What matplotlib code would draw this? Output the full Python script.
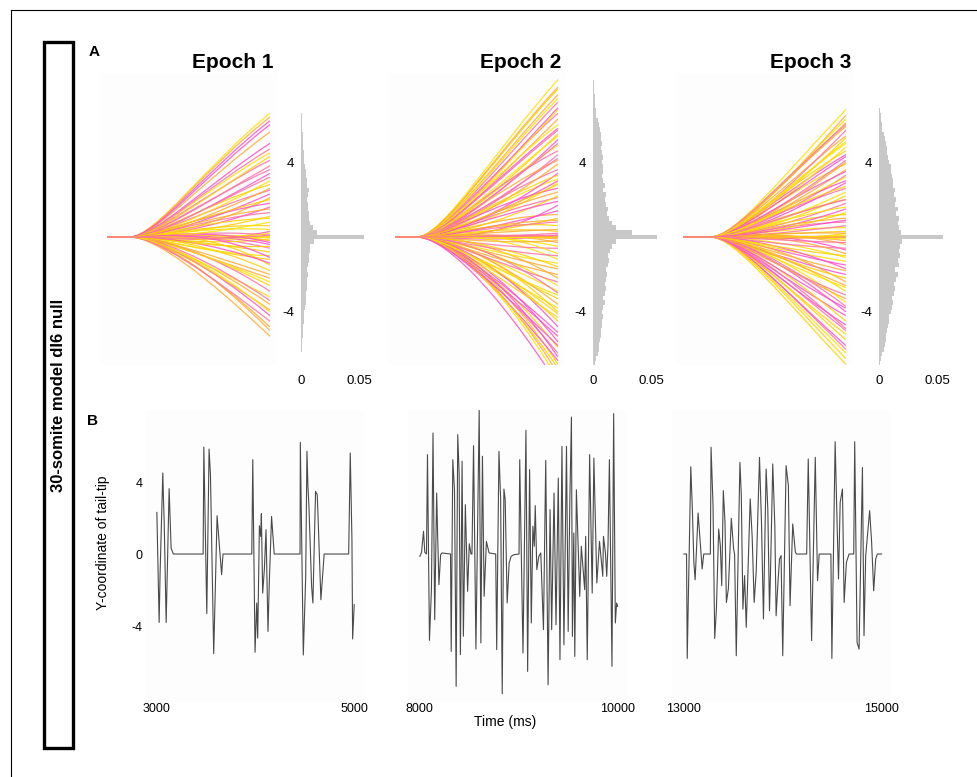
import matplotlib.pyplot as plt
from matplotlib.path import Path
from matplotlib.patches import PathPatch, Rectangle
from matplotlib.lines import Line2D

plt.rcParams['font.family'] = ['Liberation Sans', 'DejaVu Sans']

# --- panel A: tail-tip trajectories per epoch (end value, value near the middle of the spread) ---
ep1_end = [6.6, -0.2, 3.4, -2.6, 0.1, 4.5, -4.8, 1.6, -1.2, 2.5, 0.0, -3.6, 6.2, 1.0, -0.6, 3.0,
           -5.3, 0.3, -1.8, 4.1, 0.0, -2.2, 5.0, -0.1, 1.3, -3.2, 2.1, -4.2, 0.6, 3.8, -1.0, 6.4,
           -0.4, 2.8, -2.9, 0.2, -5.0, 1.8, -1.5, 4.7, 0.0, -3.9, 2.3, -0.8, 3.6, -2.4, 5.6, -0.3,
           1.1, -4.5, 0.4, 2.6, -1.4, 4.3, -3.4, 0.8, -2.0, 6.0, -0.5, 3.2, -4.0, 1.5, -1.1, 2.0, 0.1]
ep1_mid = [3.9, 0.3, 1.5, -0.9, 0.4, 2.6, -1.7, 0.4, -0.8, 1.5, -0.3, -1.3, 3.6, 0.9, 0.2, 1.2,
           -2.1, -0.4, -0.3, 2.4, 0.2, -1.1, 2.8, -0.5, 1.0, -1.5, 0.4, -1.4, 0.7, 1.9, -0.9, 3.8,
           0.3, 1.8, -0.7, -0.2, -1.6, 1.3, 0.4, 2.7, -0.1, -1.6, 0.8, -0.3, 2.1, -1.0, 3.2, 0.5,
           0.3, -1.9, 0.6, 1.0, -0.2, 2.2, -1.1, 0.1, -0.9, 3.4, -0.6, 1.6, -1.3, 1.1, 0.5, 1.2, -0.2]

ep2_end = [8.4, -0.3, 5.2, -6.8, 2.1, -2.9, 7.6, 0.1, -4.5, 3.6, -1.2, 6.3, -7.9, 0.0, 4.4, -3.8,
           1.2, -5.6, 7.9, -0.6, 2.9, -2.2, 5.8, 0.3, -6.2, 3.1, -1.7, 6.9, -4.0, 0.0, 4.9, -7.3,
           1.7, -3.3, 7.2, -0.9, 2.4, -5.1, 5.5, 0.2, -2.6, 3.9, -6.6, 0.6, 6.6, -1.4, 4.1, -4.8,
           1.0, -3.0, 7.4, -0.1, 2.6, -5.9, 5.0, 0.0, -2.0, 3.4, -7.0, 0.8, 6.0, -3.6, 1.4, -4.3,
           4.6, -0.5, 8.0, -6.4, 2.2, -1.0, 5.4, 0.4, -5.3, 3.3, -2.4, 6.8, -0.2, 1.9, -4.1, 4.2,
           -7.6, 0.0, 3.0, -1.6, 5.7, -3.1, 0.9, -5.8, 2.8, 0.1]
ep2_mid = [4.6, 0.4, 2.0, -1.6, 1.4, -1.2, 4.0, -0.3, -1.3, 2.2, 0.3, 3.0, -2.6, 0.0, 1.6, -1.9,
           1.1, -1.4, 4.3, -0.6, 0.8, -0.2, 3.1, 0.6, -2.2, 1.9, -1.0, 3.3, -0.8, 0.2, 2.6, -1.8,
           -0.2, -1.6, 3.7, 0.5, 1.5, -2.0, 2.3, 0.0, -0.7, 1.4, -2.4, 0.9, 3.6, -0.9, 2.5, -1.1,
           0.2, -0.5, 3.9, 0.1, 1.9, -1.7, 2.2, -0.1, -1.3, 1.0, -2.1, 0.6, 3.4, -1.0, 0.5, -2.0,
           2.9, 0.2, 4.4, -1.5, 0.6, -0.8, 2.7, 0.3, -2.3, 2.0, -1.4, 3.2, -0.4, 1.2, -1.5, 1.9,
           -1.9, 0.1, 1.1, -0.3, 3.0, -1.8, 0.8, -2.5, 1.3, 0.0]

ep3_end = [6.8, -0.2, 4.4, -5.5, 1.8, -2.7, 6.1, 0.0, -6.8, 3.3, -1.1, 5.4, -4.2, 0.2, 2.6, -3.5,
           6.5, -0.7, 1.2, -6.0, 4.8, 0.0, -2.0, 3.9, -4.9, 0.5, 5.9, -1.5, 2.2, -3.1, 6.3, -0.4,
           1.5, -5.2, 4.1, 0.1, -2.4, 3.0, -6.5, 0.8, 5.1, -1.8, 2.9, -4.5, 5.7, -0.1, 1.0, -3.8,
           4.6, 0.0, -2.9, 3.6, -5.8, 0.3, 6.0, -1.3, 2.0, -4.0, 5.3, -0.6, 1.6, -3.3, 4.3, 0.0,
           -5.0, 2.4, -0.9, 3.5, -2.2, 0.6, -6.2, 4.0, -1.7, 2.7, -3.7, 5.0, 0.2, -4.7, 1.3, -0.3,
           3.2, -2.6, 0.9, -1.0, 2.0]
ep3_mid = [3.4, 0.2, 2.5, -2.6, 0.6, -1.5, 3.0, 0.0, -3.4, 1.2, -0.2, 2.9, -2.4, -0.3, 1.6, -1.1,
           2.9, 0.3, 1.0, -2.8, 2.0, 0.1, -1.3, 2.4, -2.0, 0.5, 3.2, -0.9, 0.7, -1.9, 3.1, 0.4,
           0.4, -2.7, 1.7, -0.1, -0.6, 1.8, -3.1, 0.7, 2.6, -1.1, 1.1, -1.8, 2.4, 0.0, 0.8, -2.1,
           2.7, -0.1, -0.9, 1.5, -2.9, 0.2, 3.3, -0.8, 1.3, -1.4, 2.2, -0.5, 1.1, -1.8, 2.2, 0.0,
           -2.4, 0.9, 0.2, 2.0, -1.4, 0.2, -3.0, 1.6, -0.4, 1.7, -1.3, 2.7, 0.3, -2.6, 0.3, -0.2,
           1.6, -1.2, 0.4, -0.7, 1.2]

# histograms of tail-tip position, 0.25-wide bins
ep1_hist_lo = -6.0
ep1_hist = [0.0005, 0.001, 0.001, 0.0015, 0.002, 0.002, 0.0025, 0.003, 0.003, 0.0035, 0.004, 0.004,
            0.0045, 0.005, 0.005, 0.0055, 0.006, 0.0055, 0.006, 0.0065, 0.007, 0.0075, 0.008, 0.011,
            0.054,
            0.014, 0.01, 0.008, 0.007, 0.0065, 0.006, 0.006, 0.0055, 0.006, 0.0065, 0.0055, 0.005,
            0.0045, 0.004, 0.0035, 0.003, 0.003, 0.0025, 0.002, 0.002, 0.0015, 0.0015, 0.001, 0.001,
            0.0008, 0.0005, 0.0003]
ep2_hist_lo = -6.75
ep2_hist = [0.002, 0.003, 0.004, 0.005, 0.005, 0.006, 0.007, 0.007, 0.008, 0.008, 0.009, 0.008,
            0.009, 0.01, 0.009, 0.01, 0.011, 0.01, 0.011, 0.012, 0.011, 0.013, 0.014, 0.013, 0.015,
            0.016, 0.02,
            0.055,
            0.034, 0.02, 0.016, 0.014, 0.012, 0.013, 0.011, 0.01, 0.011, 0.009, 0.01, 0.009, 0.008,
            0.009, 0.009, 0.008, 0.009, 0.008, 0.007, 0.008, 0.007, 0.007, 0.006, 0.005, 0.004,
            0.003, 0.003, 0.002, 0.002, 0.0015, 0.001, 0.001, 0.0007, 0.0004]
ep3_hist_lo = -6.75
ep3_hist = [0.001, 0.002, 0.003, 0.004, 0.005, 0.006, 0.006, 0.007, 0.008, 0.009, 0.009, 0.01,
            0.011, 0.012, 0.011, 0.013, 0.014, 0.013, 0.015, 0.016, 0.014, 0.017, 0.016, 0.018,
            0.017, 0.018, 0.02,
            0.055,
            0.019, 0.017, 0.016, 0.017, 0.015, 0.016, 0.014, 0.015, 0.013, 0.014, 0.012, 0.012,
            0.011, 0.01, 0.01, 0.009, 0.008, 0.007, 0.007, 0.006, 0.005, 0.004, 0.003, 0.003,
            0.002, 0.0015, 0.001]

# --- panel B: Y-coordinate of tail tip over time (ms) ---
t1 = [3000, 3023, 3033, 3060, 3067, 3074, 3094, 3124, 3144, 3167, 3468, 3475, 3505, 3528, 3542,
      3575, 3609, 3655, 3669, 3960, 3970, 3993, 4010, 4020, 4037, 4050, 4057, 4070, 4087, 4104,
      4124, 4137, 4160, 4187, 4448, 4451, 4481, 4505, 4518, 4528, 4538, 4565, 4578, 4605, 4622,
      4632, 4659, 4692, 4940, 4956, 4973, 4980, 4996]
y1 = [2.31, -3.80, -0.96, 4.50, 3.02, 1.81, -3.80, 3.63, 0.33, 0, 0, 5.94, -3.31, 5.83, 4.41,
      -5.54, 2.13, -1.15, 0, 0, 5.24, -5.46, -2.72, -4.67, 1.57, 0.98, 2.24, -2.17, -0.87, 1.35,
      -4.30, -1.61, 2.09, 0, 0, 6.20, -5.61, -1.33, 5.70, 3.76, 2.65, -1.80, -2.72, 3.48, 3.30,
      1.81, -2.54, 0, 0, 5.61, 0.80, -4.72, -2.81]

t2 = [8000, 8017, 8037, 8050, 8067, 8077, 8097, 8117, 8133, 8150, 8170, 8180, 8193, 8210, 8223,
      8310, 8317, 8333, 8350, 8367, 8383, 8397, 8410, 8427, 8440, 8460, 8483, 8500, 8517, 8527,
      8543, 8567, 8600, 8617, 8633, 8650, 8673, 8700, 8767, 8777, 8800, 8817, 8833, 8850, 8863,
      8883, 8903, 8923, 8950, 9003, 9010, 9043, 9073, 9090, 9110, 9127, 9143, 9157, 9167, 9183,
      9203, 9223, 9250, 9273, 9297, 9317, 9333, 9357, 9377, 9400, 9417, 9437, 9457, 9483, 9500,
      9517, 9533, 9543, 9557, 9567, 9583, 9617, 9633, 9667, 9677, 9693, 9717, 9743, 9760, 9790,
      9817, 9850, 9857, 9877, 9890, 9903, 9917, 9943, 9960, 9977, 9990, 10000]
y2 = [-0.13, 0.09, 1.26, 0.09, 0, 5.52, -4.80, -1.98, 6.72, -3.65, 3.39, 0.98, -1.70, -0.04, 0.06,
      0, -5.41, 5.24, 3.57, -7.35, 6.63, 4.50, -5.59, 5.15, -4.57, 2.74, -2.07, 0.57, 0, 0,
      6.02, -5.28, 7.98, -4.94, 5.43, -2.35, 0.70, 0.06, 0, -5.31, 5.70, 3.02, -7.76, 3.61, 3.02,
      -2.72, -0.50, -0.13, -0.04, 0, 5.24, -5.50, 6.87, -6.52, 4.69, -3.83, 1.54, 0.43, 2.69, -0.87,
      -0.13, 0.06, -4.20, 5.20, -7.26, 2.46, -4.20, 3.39, -3.93, 4.22, -5.87, 5.98, -5.04, 5.98, -4.30,
      3.02, 7.61, -4.57, 1.17, -5.69, 3.57, -2.35, 0.43, -1.98, 0.98, -5.87, 5.52, -2.17, 5.33, -1.61,
      0.70, -1.24, 0.98, 0.06, -1.24, 0.52, 5.24, -6.24, 7.80, -3.83, -2.72, -2.91]

t3 = [13000, 13027, 13034, 13070, 13087, 13101, 13114, 13144, 13168, 13185, 13201, 13268, 13275,
      13295, 13312, 13329, 13352, 13369, 13383, 13399, 13416, 13430, 13450, 13480, 13503, 13513,
      13530, 13567, 13581, 13597, 13614, 13631, 13671, 13691, 13711, 13732, 13765, 13785, 13805,
      13832, 13849, 13866, 13876, 13899, 13920, 13933, 13950, 13967, 13983, 14000, 14034, 14057,
      14074, 14101, 14128, 14141, 14242, 14258, 14292, 14329, 14352, 14369, 14487, 14497, 14530,
      14547, 14564, 14581, 14604, 14621, 14644, 14671, 14718, 14728, 14752, 14772, 14806, 14822,
      14839, 14879, 14899, 14920, 14940, 14957, 15000]
y3 = [0, 0, -5.80, 4.85, 2.31, -0.46, -1.43, 2.28, 0.46, -0.83, 0, 0, 5.93, 2.69, -4.69, -3.06,
      1.39, 0.46, -1.76, 3.52, 1.76, -2.69, -1.94, 1.98, 0.28, 0, -5.65, 5.09, 3.24, -3.06, -1.20,
      -4.07, 3.06, 0.93, -2.69, -0.93, 5.37, 1.76, -3.61, 4.72, 2.50, -3.15, -1.11, 5.00, 1.57,
      -3.43, -1.76, -0.28, -0.09, -5.65, 4.91, 3.80, -2.87, 1.67, 0.09, 0, 0, 5.28, -4.81, 5.37,
      -1.48, 0, 0, -5.80, 6.24, 2.31, -1.39, 2.87, 3.61, -2.69, -0.46, 0, 0, 6.24, -4.91, -5.28,
      4.81, -4.54, -0.09, 2.41, 0.65, -2.04, -0.28, 0, 0]

epochs = ['Epoch 1', 'Epoch 2', 'Epoch 3']
b_ticks = [(3000, 5000), (8000, 10000), (13000, 15000)]
palette = ['#ffe100', '#ffac2f', '#ff4fc8', '#ffd000', '#ff70a8']

W, H = 977, 777
fig = plt.figure(figsize=(W / 100, H / 100), dpi=100)


def px_axes(x0, y0, x1, y1):
    return fig.add_axes([x0 / W, 1 - y1 / H, (x1 - x0) / W, (y1 - y0) / H])


def clean(ax, face='none'):
    ax.set_facecolor(face)
    for s in ax.spines.values():
        s.set_visible(False)
    ax.tick_params(length=0)


def draw_fan(ax, ends, mids, split):
    span = 1 - split
    codes = [Path.MOVETO, Path.LINETO, Path.CURVE4, Path.CURVE4, Path.CURVE4]
    for i, (end, mid) in enumerate(zip(ends, mids)):
        verts = [(0, 0), (split, 0), (split + 0.18 * span, 0), (split + 0.55 * span, mid), (1, end)]
        ax.add_patch(PathPatch(Path(verts, codes), fill=False, lw=0.9, alpha=0.85,
                               edgecolor=palette[i % len(palette)]))
    ax.set_xlim(-0.043, 1.043)
    ax.set_ylim(-6.83, 8.75)
    clean(ax, '#fdfdfd')
    ax.set_xticks([])
    ax.set_yticks([])


def draw_hist(ax, lo, dens):
    centers = [lo + 0.25 * i for i in range(len(dens))]
    ax.barh(centers, dens, height=0.25, color='#c8c8c8', linewidth=0)
    ax.set_xlim(0, 0.0655)
    ax.set_ylim(-6.83, 8.75)
    clean(ax)
    ax.set_xticks([0, 0.05], ['0', '0.05'])
    ax.set_yticks([-4, 4], ['-4', '4'])
    ax.tick_params(axis='x', pad=7, labelsize=9.5)
    ax.tick_params(axis='y', pad=5, labelsize=9.5)


fans = [(ep1_end, ep1_mid, 0.14, ep1_hist_lo, ep1_hist, 100, 301),
        (ep2_end, ep2_mid, 0.135, ep2_hist_lo, ep2_hist, 388, 593),
        (ep3_end, ep3_mid, 0.17, ep3_hist_lo, ep3_hist, 676, 879)]
title_x = [233, 521, 811]

for (ends, mids, split, lo, dens, fx, hx), name, tx in zip(fans, epochs, title_x):
    draw_fan(px_axes(fx, 73, fx + 177, 365), ends, mids, split)
    draw_hist(px_axes(hx, 73, hx + 76, 365), lo, dens)
    fig.text(tx / W, 1 - 62 / H, name, ha='center', va='center', fontsize=15, fontweight='bold')

traces = [(t1, y1, 145), (t2, y2, 408), (t3, y3, 672)]
for k, ((t, y, bx), (tlo, thi)) in enumerate(zip(traces, b_ticks)):
    ax = px_axes(bx, 410, bx + 219, 702)
    ax.plot(t, y, color='#4a4a4a', lw=0.8)
    ax.set_xlim(tlo - 120, thi + 95)
    ax.set_ylim(-8.22, 8.0)
    clean(ax, '#fdfdfd')
    ax.set_xticks([tlo, thi], [str(tlo), str(thi)])
    ax.tick_params(axis='x', pad=1, labelsize=9)
    if k == 0:
        ax.set_yticks([-4, 0, 4], ['-4', '0', '4'])
        ax.tick_params(axis='y', pad=2, labelsize=9)
    else:
        ax.set_yticks([])

fig.text(103 / W, 1 - 543 / H, 'Y-coordinate of tail-tip', rotation=90, ha='center', va='center', fontsize=10)
fig.text(505 / W, 1 - 722 / H, 'Time (ms)', ha='center', va='center', fontsize=10)
fig.text(94 / W, 1 - 52 / H, 'A', ha='center', va='center', fontsize=11, fontweight='bold')
fig.text(93 / W, 1 - 421 / H, 'B', ha='center', va='center', fontsize=11, fontweight='bold')

# frame lines and the side label box
fig.add_artist(Line2D([11 / W, 1], [1 - 10 / H, 1 - 10 / H], color='black', lw=0.8))
fig.add_artist(Line2D([11 / W, 11 / W], [0, 1 - 10 / H], color='black', lw=0.8))
fig.add_artist(Rectangle((44 / W, 1 - 748 / H), 29 / W, 706 / H, fill=False, lw=2.4, ec='black'))
fig.text(58.5 / W, 1 - 395 / H, '30-somite model dI6 null', rotation=90, ha='center', va='center',
         fontsize=12, fontweight='bold')

fig.savefig('out.png', dpi=100, facecolor='white')
